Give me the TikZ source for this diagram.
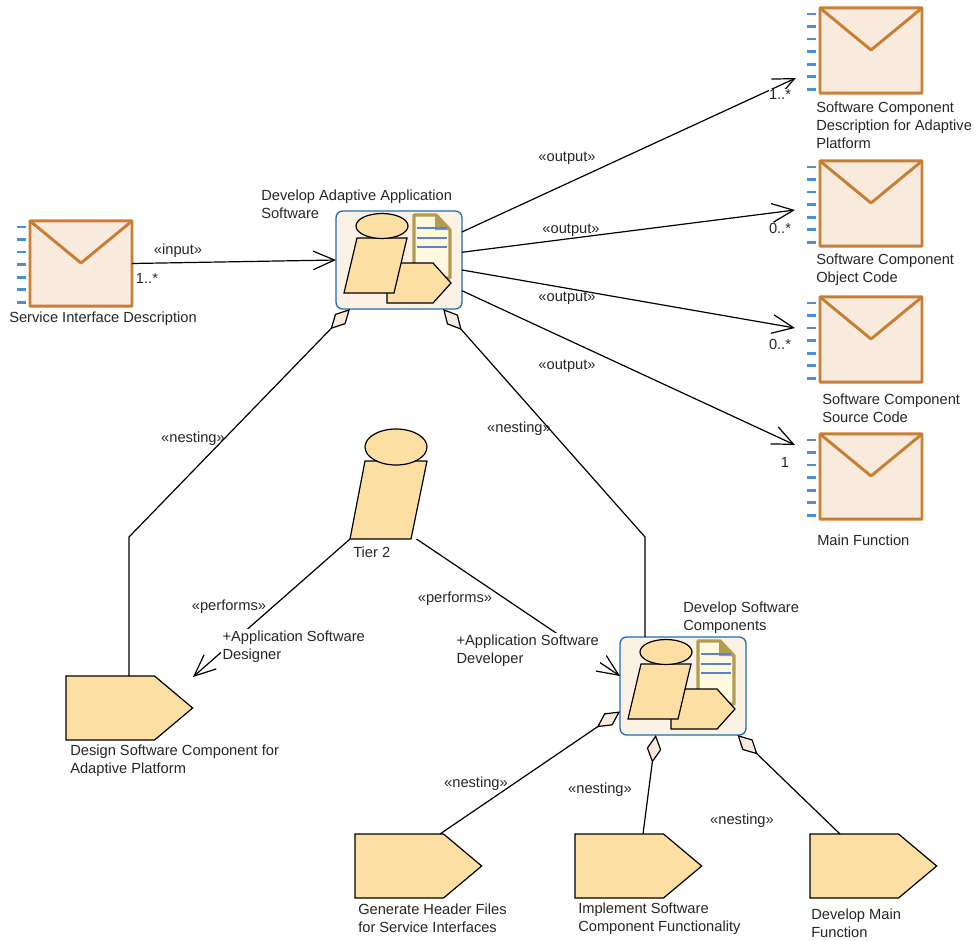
\documentclass[tikz,border=0pt]{standalone}
\usepackage{fontspec}
\setmainfont{Liberation Sans}
\usetikzlibrary{arrows.meta,shapes.symbols}
\definecolor{msgedge}{HTML}{C97F33}
\definecolor{msgfill}{HTML}{F8EADD}
\definecolor{tickblue}{HTML}{4A8FD8}
\definecolor{roleorange}{HTML}{FDDEA3}
\definecolor{taskblue}{HTML}{1F6DB0}
\definecolor{taskfill}{HTML}{FBF1E4}
\definecolor{docedge}{HTML}{B39B50}
\definecolor{docfill}{HTML}{FFF9E0}
\definecolor{docline}{HTML}{5B82D0}
\tikzset{
  lbl/.style={font=\fontsize{11}{13.5}\selectfont,text=black!85,align=left,anchor=west,inner sep=0pt,yshift=-1.1pt},
  tag/.style={font=\fontsize{11}{13.5}\selectfont,text=black!85,inner sep=0pt,yshift=-1.1pt},
  rolelbl/.style={lbl,fill=white,inner sep=1pt},
  msgbox/.style={draw=msgedge,fill=msgfill,line width=2.2pt,rounded corners=0.5pt,minimum width=76.5pt,minimum height=64pt,inner sep=0pt,outer sep=0pt},
  taskbox/.style={draw=taskblue,fill=taskfill,line width=1pt,rounded corners=5pt,minimum width=94.5pt,minimum height=73.5pt,inner sep=0pt,outer sep=0pt},
  stepshape/.style={draw=black,fill=roleorange,line width=0.9pt,signal,signal to=east,signal pointer angle=80,minimum width=95pt,minimum height=48pt,inner sep=0pt,outer sep=0pt},
  shapeline/.style={draw=black,fill=roleorange,line width=0.9pt},
  flow/.style={line width=0.9pt,-{Straight Barb[length=16pt,width=14pt]}},
  nest/.style={line width=0.9pt,{Diamond[length=21pt,width=11pt,fill=msgfill]}-},
}
\newcommand{\Envelope}[2]{
\begin{scope}[shift={#1}]
\node (#2) [msgbox] at (51,42.5) {};
\draw[draw=msgedge,line width=2.2pt,line join=round] (0,0) -- (51,42) -- (102,0);
\foreach \k in {0,...,6}
  \draw[tickblue,line width=2pt] (-13,{6+12.55*\k}) -- (-4,{6+12.55*\k});
\end{scope}}
\newcommand{\TaskIcon}[2]{
\begin{scope}[shift={#1}]
\node (#2) [taskbox] at (63,49) {};
\draw[draw=docedge,fill=docfill,line width=2.6pt,line join=round] (78,4) -- (100,4) -- (114,19) -- (114,67) -- (78,67) -- cycle;
\fill[docedge] (99,3) -- (115,19) -- (99,19) -- cycle;
\foreach \y in {17,27,36}
  \draw[docline,line width=2pt] (81,\y) -- (111,\y);
\draw[shapeline] (51,52) -- (97,52) -- (115,72) -- (97,92) -- (51,92) -- cycle;
\draw[shapeline] (21,27) -- (71,27) -- (58,82) -- (8,82) -- cycle;
\draw[shapeline] (46,15) ellipse (26 and 12.5);
\end{scope}}
\begin{document}
\begin{tikzpicture}[x=0.75pt,y=-0.75pt]
\useasboundingbox (0,0) rectangle (975,940);
% messages
\Envelope{(30,221)}{sid}
\Envelope{(820,8)}{scd}
\Envelope{(820,161)}{sco}
\Envelope{(820,297)}{scs}
\Envelope{(820,434)}{mainfn}
% tasks
\TaskIcon{(336,211)}{adas}
\TaskIcon{(620,637)}{devsw}
\node (design) [stepshape,anchor=west] at (66,708) {};
\node (genhdr) [stepshape,anchor=west] at (355,866) {};
\node (implsw) [stepshape,anchor=west] at (575,866) {};
\node (devmain) [stepshape,anchor=west] at (810,866) {};
% role
\node (tier) [inner sep=0pt,outer sep=0pt,minimum width=57.75pt,minimum height=82.5pt] at (388.5,484) {};
\draw[shapeline] (365,461) -- (427,461) -- (411,539) -- (350,539) -- cycle;
\draw[shapeline] (396,447) ellipse (31 and 18);
% free ends
\coordinate (scdin) at (796,78);
\coordinate (scoin) at (795,210);
\coordinate (scsin) at (795,328);
\coordinate (mainin) at (795,445);
\coordinate (designin) at (193,677);
\coordinate (bendl) at (129,537);
\coordinate (bendr) at (645,537);
\coordinate (designtop) at (129,676);
\coordinate (devswtop) at (645,637);
\coordinate (genhdrtop) at (440,834);
\coordinate (implswtop) at (643,834);
\coordinate (devmaintop) at (840,834);
%
\path[flow](sid.east) edge (adas.west);
\path[flow](adas.24.7) edge (scdin);
\path[flow](adas.7.2) edge (scoin);
\path[flow](adas.-9) edge (scsin);
\path[flow](adas.-26.9) edge (mainin);
\path[flow](tier.south west) edge (designin);
\path[flow](tier.-63.4) edge (devsw.171.9);
%
\draw[nest] (adas.225.6) -- (bendl) -- (designtop);
\draw[nest] (adas.-48) -- (bendr) -- (devswtop);
\draw[nest] (devsw.202.4) -- (genhdrtop);
\draw[nest] (devsw.-119.7) -- (implswtop);
\draw[nest] (devsw.-42.2) -- (devmaintop);
% names
\node (sidt) [lbl] at (9,317) {Service Interface Description};
\node (scdt) [lbl] at (816,123.5) {Software Component\\Description for Adaptive\\Platform};
\node (scot) [lbl] at (816,268) {Software Component\\Object Code};
\node (scst) [lbl] at (822,407) {Software Component\\Source Code};
\node (maint) [lbl] at (817,539) {Main Function};
\node (adast) [lbl] at (261,203) {Develop Adaptive Application\\Software};
\node (devswt) [lbl] at (683,616) {Develop Software\\Components};
\node (tiert) [lbl] at (353,551) {Tier 2};
\node (designt) [lbl] at (70,759) {Design Software Component for\\Adaptive Platform};
\node (genhdrt) [lbl] at (358,917) {Generate Header Files\\for Service Interfaces};
\node (implswt) [lbl] at (578,917) {Implement Software\\Component Functionality};
\node (devmaint) [lbl] at (811,922) {Develop Main\\Function};
% connector labels
\node (r1) [rolelbl] at (221,645) {+Application Software\\Designer};
\node (r2) [rolelbl] at (455,649) {+Application Software\\Developer};
\node (t1) [tag] at (178,249) {«input»};
\node (t2) [tag] at (147,277) {1..*};
\node (t3) [tag] at (567,157) {«output»};
\node (t4) [tag,fill=white] at (780,93) {1..*};
\node (t5) [tag] at (571,229) {«output»};
\node (t6) [tag] at (780,227) {0..*};
\node (t7) [tag] at (567,297) {«output»};
\node (t8) [tag] at (780,343) {0..*};
\node (t9) [tag] at (567,365) {«output»};
\node (t10) [tag] at (785,461) {1};
\node (t11) [tag] at (193,437) {«nesting»};
\node (t12) [tag] at (519,427) {«nesting»};
\node (t13) [tag] at (229,605) {«performs»};
\node (t14) [tag] at (455,597) {«performs»};
\node (t15) [tag] at (476,782) {«nesting»};
\node (t16) [tag] at (600,788) {«nesting»};
\node (t17) [tag] at (742,819) {«nesting»};
\end{tikzpicture}
\end{document}
